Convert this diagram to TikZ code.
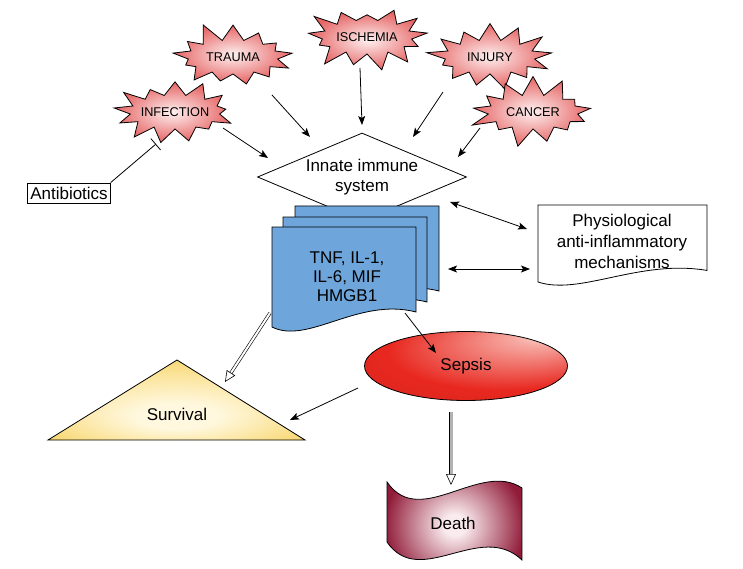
\documentclass[tikz,border=0pt]{standalone}
\usepackage{fontspec}
\setmainfont{Liberation Sans}
\usetikzlibrary{shapes.geometric,shapes.symbols,arrows.meta}

\definecolor{burstred}{RGB}{230,100,100}
\definecolor{burstpale}{RGB}{254,240,240}
\definecolor{cytoblue}{RGB}{110,166,220}
\definecolor{sepsisred}{RGB}{232,40,32}
\definecolor{sepsispale}{RGB}{252,225,218}
\definecolor{survyellow}{RGB}{248,214,110}
\definecolor{survpale}{RGB}{255,248,222}
\definecolor{deathred}{RGB}{145,28,58}
\definecolor{deathpale}{RGB}{250,236,238}

\pgfdeclareradialshading{sepsisglow}{\pgfpoint{20bp}{24bp}}{color(0bp)=(sepsispale); color(6bp)=(sepsispale!70!sepsisred); color(28bp)=(sepsisred); color(50bp)=(sepsisred!88!black)}
\pgfdeclareradialshading{survglow}{\pgfpoint{0bp}{-12bp}}{color(0bp)=(survpale); color(8bp)=(survpale); color(32bp)=(survyellow); color(50bp)=(survyellow)}
\pgfdeclareradialshading{deathglow}{\pgfpoint{0bp}{0bp}}{color(0bp)=(deathpale); color(4bp)=(deathpale); color(26bp)=(deathred); color(50bp)=(deathred)}

% sheet with a wavy lower edge: left x, top y, width, height at the left side
\newcommand\docsheet[4]{(#1,#2) -- ({#1+#3},#2) -- ({#1+#3},{#2+0.85*#4})
  .. controls ({#1+0.6*#3},{#2+0.7*#4}) and ({#1+0.25*#3},{#2+1.18*#4}) .. (#1,{#2+#4}) -- cycle}

\begin{document}
\begin{tikzpicture}[x=1pt,y=-1pt,line width=.8pt,
  every node/.style={font=\fontsize{17}{20}\selectfont,align=center},
  burst/.style={starburst,draw,starburst points=13,starburst point height=20pt,
    minimum width=130pt,minimum height=74pt,inner xsep=-4pt,inner ysep=0pt,
    inner color=burstpale,outer color=burstred,font=\fontsize{12.7}{14}\selectfont},
  arr/.style={-{Stealth[length=9pt,width=7pt,inset=2pt]}},
  twoarr/.style={{Stealth[length=9pt,width=7pt,inset=2pt]}-{Stealth[length=9pt,width=7pt,inset=2pt]}},
  hollowarr/.style={double,double distance=2pt,-{Triangle[open,length=11pt,width=10pt]}}]
\useasboundingbox (0,0) rectangle (743,569);

% Insults
\node[burst,random starburst=11] (trauma) at (233,57) {TRAUMA};
\node[burst,random starburst=23] (ischemia) at (367,37) {ISCHEMIA};
\node[burst,random starburst=37] (injury) at (490,57) {INJURY};
\node[burst,random starburst=41] (infection) at (175,112) {INFECTION};
\node[burst,random starburst=53] (cancer) at (533,112) {CANCER};

% Innate immune system and the mediator sheets on top of it
\node[diamond,draw,fill=white,aspect=2.375,minimum width=209pt,minimum height=88pt,inner sep=0pt] (innate) at (362,177) {Innate immune\\system};
\draw[fill=cytoblue] \docsheet{295}{206}{144}{100};
\draw[fill=cytoblue] \docsheet{283}{217}{144}{100};
\draw[fill=cytoblue] \docsheet{272}{227}{144}{100};
\node[font=\fontsize{17}{19}\selectfont] (cyto) at (347,277) {TNF, IL-1,\\IL-6, MIF\\HMGB1};

% Counter-regulation
\draw \docsheet{538}{205}{169}{77};
\node[font=\fontsize{17}{21}\selectfont] (physio) at (622,241) {Physiological\\anti-inflammatory\\mechanisms};
\node[draw,inner xsep=2.5pt,inner ysep=0pt,minimum height=20pt] (antibiotics) at (69,193) {Antibiotics};

% Outcomes
\node[ellipse,draw,shading=sepsisglow,minimum width=203pt,minimum height=69pt] (sepsis) at (466,366) {Sepsis};
\draw[shading=survglow] (48,440) -- (177,360) -- (305,440) -- cycle;
\node (survival) at (177,414) {Survival};
\draw[shading=deathglow] (387,482) .. controls (420,530) and (480,460) .. (522,488) -- (522,560)
  .. controls (480,520) and (420,590) .. (387,542) -- cycle;
\node (death) at (453,523) {Death};

% Arrow ends
\coordinate (inf1) at (223,128); \coordinate (inf2) at (268,158);
\coordinate (tra1) at (272,95); \coordinate (tra2) at (310,137);
\coordinate (isc1) at (360,68); \coordinate (isc2) at (362,125);
\coordinate (inj1) at (443,92); \coordinate (inj2) at (413,137);
\coordinate (can1) at (480,128); \coordinate (can2) at (458,157);
\coordinate (bar) at (156,144);
\coordinate (phy1) at (450,202); \coordinate (phy2) at (527,229);
\coordinate (phy3) at (448,269); \coordinate (phy4) at (530,269);
\coordinate (cyt1) at (405,313); \coordinate (sep1) at (436,353);
\coordinate (cyt2) at (270,313); \coordinate (sur1) at (225,382);
\coordinate (sep2) at (358,388); \coordinate (sur2) at (290,420);
\coordinate (sep3) at (451,412); \coordinate (dea1) at (451,485);

\draw[arr] (inf1) -- (inf2);
\draw[arr] (tra1) -- (tra2);
\draw[arr] (isc1) -- (isc2);
\draw[arr] (inj1) -- (inj2);
\draw[arr] (can1) -- (can2);
\draw[-{Bar[width=15pt]}] (antibiotics.north east) -- (bar);
\draw[twoarr] (phy1) -- (phy2);
\draw[twoarr] (phy3) -- (phy4);
\draw[arr] (cyt1) -- (sep1);
\draw[hollowarr,line width=.6pt] (cyt2) -- (sur1);
\draw[arr] (sep2) -- (sur2);
\draw[hollowarr,double=gray!60,double distance=3pt,line width=.6pt] (sep3) -- (dea1);
\end{tikzpicture}
\end{document}
